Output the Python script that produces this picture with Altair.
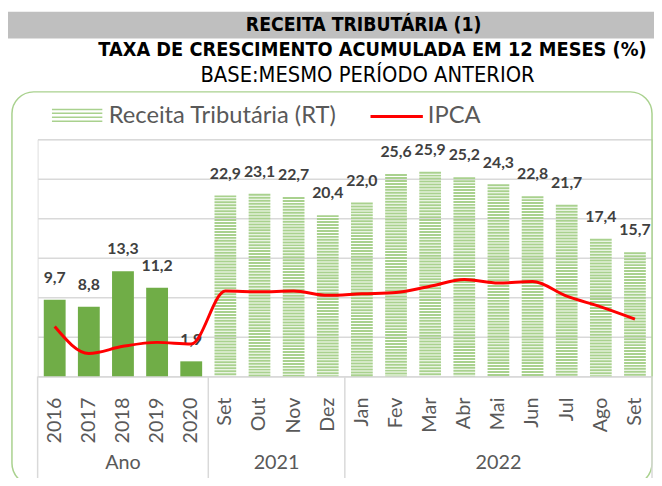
import altair as alt
import pandas as pd

# ---- data ----
categories = ["2016", "2017", "2018", "2019", "2020",
              "Set", "Out", "Nov", "Dez",
              "Jan", "Fev", "Mar", "Abr", "Mai", "Jun", "Jul", "Ago", "Set"]
group_names = ["Ano", "2021", "2022"]
group_sizes = [5, 4, 9]
rt_values = [9.7, 8.8, 13.3, 11.2, 1.9,
             22.9, 23.1, 22.7, 20.4,
             22.0, 25.6, 25.9, 25.2, 24.3, 22.8, 21.7, 17.4, 15.7]
ipca_values = [6.3, 2.9, 3.8, 4.3, 4.1,
               10.8, 10.7, 10.8, 10.25,
               10.45, 10.6, 11.4, 12.25, 11.8, 12.0, 10.15, 8.8, 7.25]
y_ticks = [0, 5, 10, 15, 20, 25, 30]

# ---- tables built from the arrays ----
groups = [g for g, n in zip(group_names, group_sizes) for _ in range(n)]
keys = [f"{c}|{g}" for c, g in zip(categories, groups)]
df = pd.DataFrame({
    "key": keys,
    "grupo": groups,
    "rt": rt_values,
    "ipca": ipca_values,
    "rotulo": [f"{v:.1f}".replace(".", ",") for v in rt_values],
    "tipo": ["anual" if g == "Ano" else "mensal" for g in groups],
})

bounds = [0]
for n in group_sizes:
    bounds.append(bounds[-1] + n)
sep_df = pd.DataFrame({"pos": bounds})
grp_df = pd.DataFrame({
    "pos": [(bounds[i] + bounds[i + 1]) / 2 for i in range(len(group_names))],
    "nome": group_names,
})
one = pd.DataFrame({"a": [0]})

W, H = 622, 240
GRID = "#D9D9D9"
TXT = "#595959"
LIGHT = "#A9D18E"
FONT = "Lato"
TFONT = "DejaVu Sans Condensed"

xscale = alt.Scale(domain=keys, paddingInner=0.36, paddingOuter=0.18)
x_axis = alt.X("key:N", sort=keys, scale=xscale, title=None,
               axis=alt.Axis(labelExpr="split(datum.value, '|')[0]",
                             labelAngle=270, labelFontSize=20, labelFont=FONT,
                             labelColor=TXT, ticks=False, tickSize=0,
                             labelPadding=21, domainColor=GRID, domainWidth=1.5,
                             grid=False, labelOverlap=False, title=None))
yscale = alt.Scale(domain=[0, 30])
y_axis = alt.Y("rt:Q", scale=yscale, title=None,
               axis=alt.Axis(values=y_ticks, labels=False, ticks=False, domain=False,
                             grid=True, gridColor=GRID, gridWidth=1.5, title=None))
y_ipca = alt.Y("ipca:Q", scale=yscale, title=None,
               axis=alt.Axis(values=y_ticks, labels=False, ticks=False, domain=False,
                             grid=True, gridColor=GRID, gridWidth=1.5, title=None))

solid = alt.Chart(df).transform_filter("datum.tipo == 'anual'").mark_bar(
    color="#70AD47").encode(x=x_axis, y=y_axis)

hatch = alt.Chart(df).transform_filter("datum.tipo == 'mensal'").mark_rule(
    color=LIGHT, strokeWidth=22, strokeDash=[2, 1], strokeCap="butt").encode(
    x=x_axis, y=y_axis, y2=alt.datum(0))

labels = alt.Chart(df).mark_text(
    font=FONT, fontSize=16, fontWeight="bold", color="#404040",
    baseline="middle", dy=-22).encode(
    x=x_axis, y=y_axis, text="rotulo:N")

line = alt.Chart(df).mark_line(
    color="#FF0000", strokeWidth=3, interpolate="monotone").encode(
    x=x_axis, y=y_ipca)

main = alt.layer(solid, hatch, labels, line)

qx = alt.X("pos:Q", scale=alt.Scale(domain=[0, bounds[-1]], nice=False, zero=False), axis=None)
seps = alt.Chart(sep_df).mark_rule(color=GRID, strokeWidth=1.5).encode(
    x=qx, y=alt.value(H), y2=alt.value(H + 130))
grp_labels = alt.Chart(grp_df).mark_text(
    font=FONT, fontSize=20, color=TXT, baseline="middle").encode(
    x=qx, y=alt.value(H + 88), text="nome:N")
deco = alt.layer(seps, grp_labels)

frame = alt.Chart(one).mark_rect(
    fill="white", fillOpacity=0, stroke=LIGHT, strokeWidth=1.5, cornerRadius=22).encode(
    x=alt.value(-26), x2=alt.value(W), y=alt.value(-48), y2=alt.value(H + 110))
band = alt.Chart(one).mark_rect(color="#BFBFBF").encode(
    x=alt.value(-40), x2=alt.value(W + 10), y=alt.value(-129), y2=alt.value(-102))
t1 = alt.Chart(one).mark_text(font=TFONT, fontSize=19.5, fontWeight="bold", color="black",
                              baseline="middle").encode(
    x=alt.value(330), y=alt.value(-116), text=alt.value("RECEITA TRIBUTÁRIA (1)"))
t2 = alt.Chart(one).mark_text(font=TFONT, fontSize=20, fontWeight="bold", color="black",
                              baseline="middle").encode(
    x=alt.value(339), y=alt.value(-90),
    text=alt.value("TAXA DE CRESCIMENTO ACUMULADA EM 12 MESES (%)"))
t3 = alt.Chart(one).mark_text(font=TFONT, fontSize=22, color="black",
                              baseline="middle").encode(
    x=alt.value(334), y=alt.value(-65), text=alt.value("BASE:MESMO PERÍODO ANTERIOR"))

leg_sw1 = alt.Chart(one).mark_rule(color=LIGHT, strokeWidth=51, strokeDash=[1.5, 2.5],
                                   strokeCap="butt").encode(
    x=alt.value(40), y=alt.value(-31), y2=alt.value(-15))
leg_t1 = alt.Chart(one).mark_text(font=FONT, fontSize=24, color=TXT, align="left",
                                  baseline="middle").encode(
    x=alt.value(72), y=alt.value(-23), text=alt.value("Receita Tributária (RT)"))
leg_sw2 = alt.Chart(one).mark_rule(color="#FF0000", strokeWidth=3).encode(
    x=alt.value(337), x2=alt.value(390), y=alt.value(-23))
leg_t2 = alt.Chart(one).mark_text(font=FONT, fontSize=24, color=TXT, align="left",
                                  baseline="middle").encode(
    x=alt.value(395), y=alt.value(-23), text=alt.value("IPCA"))

chart = alt.layer(
    frame, band, t1, t2, t3, leg_sw1, leg_t1, leg_sw2, leg_t2, main, deco
).resolve_scale(x="independent").properties(
    width=W, height=H,
    padding={"left": 30, "top": 130, "right": 2, "bottom": 100},
    autosize=alt.AutoSizeParams(type="none"),
).configure_view(stroke=None).configure(background="white")

chart.save("out.html", embed_options={"renderer": "svg", "actions": False})
